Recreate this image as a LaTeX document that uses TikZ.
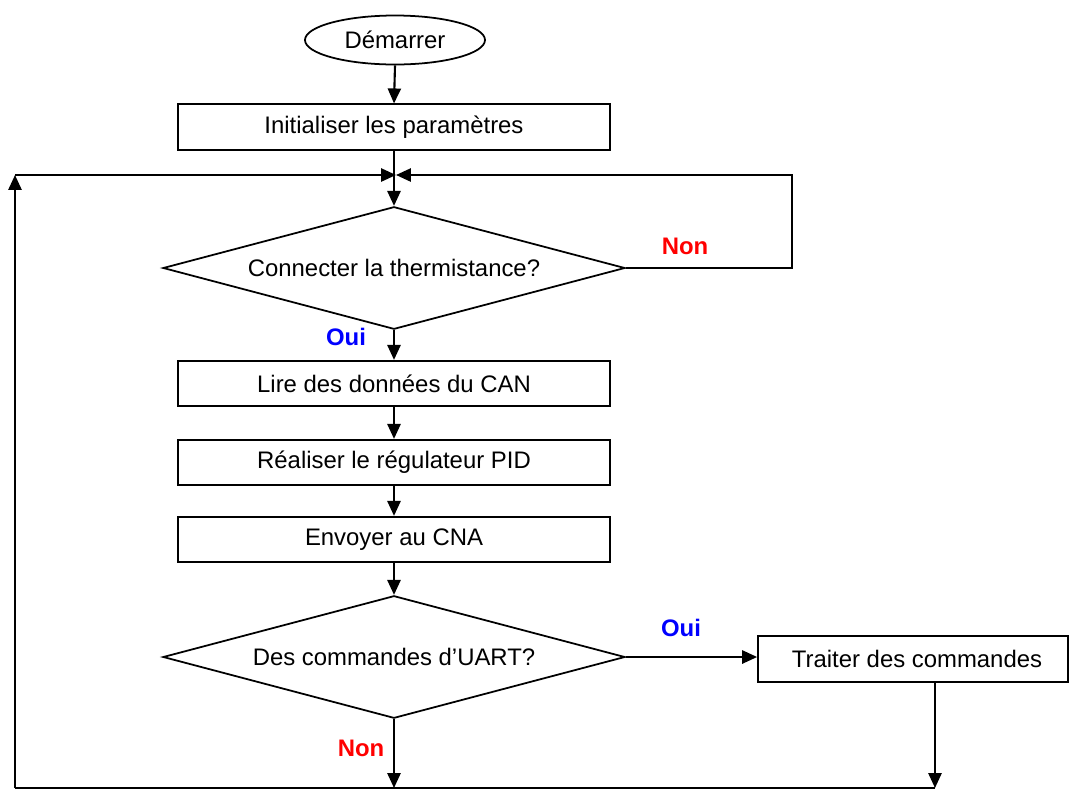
\documentclass[tikz,border=0pt]{standalone}
\usepackage{fontspec}
\setmainfont{Liberation Sans}
\usepackage{tikz}
\usetikzlibrary{shapes.geometric,arrows.meta,positioning,calc}
\definecolor{rougeNon}{RGB}{255,0,0}
\definecolor{bleuOui}{RGB}{0,0,255}

\begin{document}
\begin{tikzpicture}[x=0.2mm,y=-0.2mm,font=\fontsize{13.6}{16}\selectfont,
  bloc/.style={rectangle,draw,line width=1pt,minimum width=86.4mm,minimum height=9.1mm,inner sep=2pt},
  test/.style={diamond,draw,line width=1pt,aspect=3.75,minimum width=92.4mm,minimum height=24.5mm,inner sep=1pt},
  fleche/.style={-{Triangle[length=8.5pt,width=7.5pt]},line width=1.2pt},
  trait/.style={line width=1.2pt},
  non/.style={text=rougeNon,font=\fontsize{13.6}{16}\selectfont\bfseries},
  oui/.style={text=bleuOui,font=\fontsize{13.6}{16}\selectfont\bfseries}]

  \useasboundingbox (0,0) rectangle (1069,790);

  \node[ellipse,draw,line width=1pt,minimum width=36mm,minimum height=9.8mm] (DEM) at (395,40) {Démarrer};
  \node[bloc] (INIT) at (394,127) {Initialiser les paramètres};
  \coordinate (J) at (396,175);
  \node[test] (T1) at (394,268) {Connecter la thermistance?};
  \node[bloc] (LIRE) at (394,383.5) {Lire des données du CAN};
  \node[bloc] (PID) at (394,462.5) {Réaliser le régulateur PID};
  \node[bloc] (CNA) at (394,539.5) {Envoyer au CNA};
  \node[test] (T2) at (394,657) {Des commandes d’UART?};
  \node[bloc,minimum width=62mm] (TRAIT) at (913,659) {\hspace{1.6mm}Traiter des commandes};

  \coordinate (HD) at (792,175);
  \coordinate (BD) at (935,788);
  \coordinate (BG) at (15,788);
  \coordinate (HG) at (15,175);

  \draw[fleche] (DEM.south) -- (INIT.north);
  \draw[fleche] (INIT.south) -- (T1.north);
  \draw[fleche] (T1.south) -- (LIRE.north);
  \draw[fleche] (LIRE.south) -- (PID.north);
  \draw[fleche] (PID.south) -- (CNA.north);
  \draw[fleche] (CNA.south) -- (T2.north);

  \draw[fleche] (T1.east) -- (T1.east -| HD) -- (HD) -- (J);
  \draw[fleche] (T2.east) -- (T2.east -| TRAIT.west);
  \draw[fleche] (BD |- TRAIT.south) -- (BD);
  \draw[fleche] (T2.south) -- (T2.south |- BG);
  \draw[trait] (BD) -- (BG);
  \draw[fleche] (BG) -- (HG);
  \draw[fleche] (HG) -- (J);

  \node[non] (NON1) at (685,246) {Non};
  \node[oui] (OUI1) at (346,337) {Oui};
  \node[oui] (OUI2) at (681,628) {Oui};
  \node[non] (NON2) at (361,748) {Non};
\end{tikzpicture}
\end{document}
